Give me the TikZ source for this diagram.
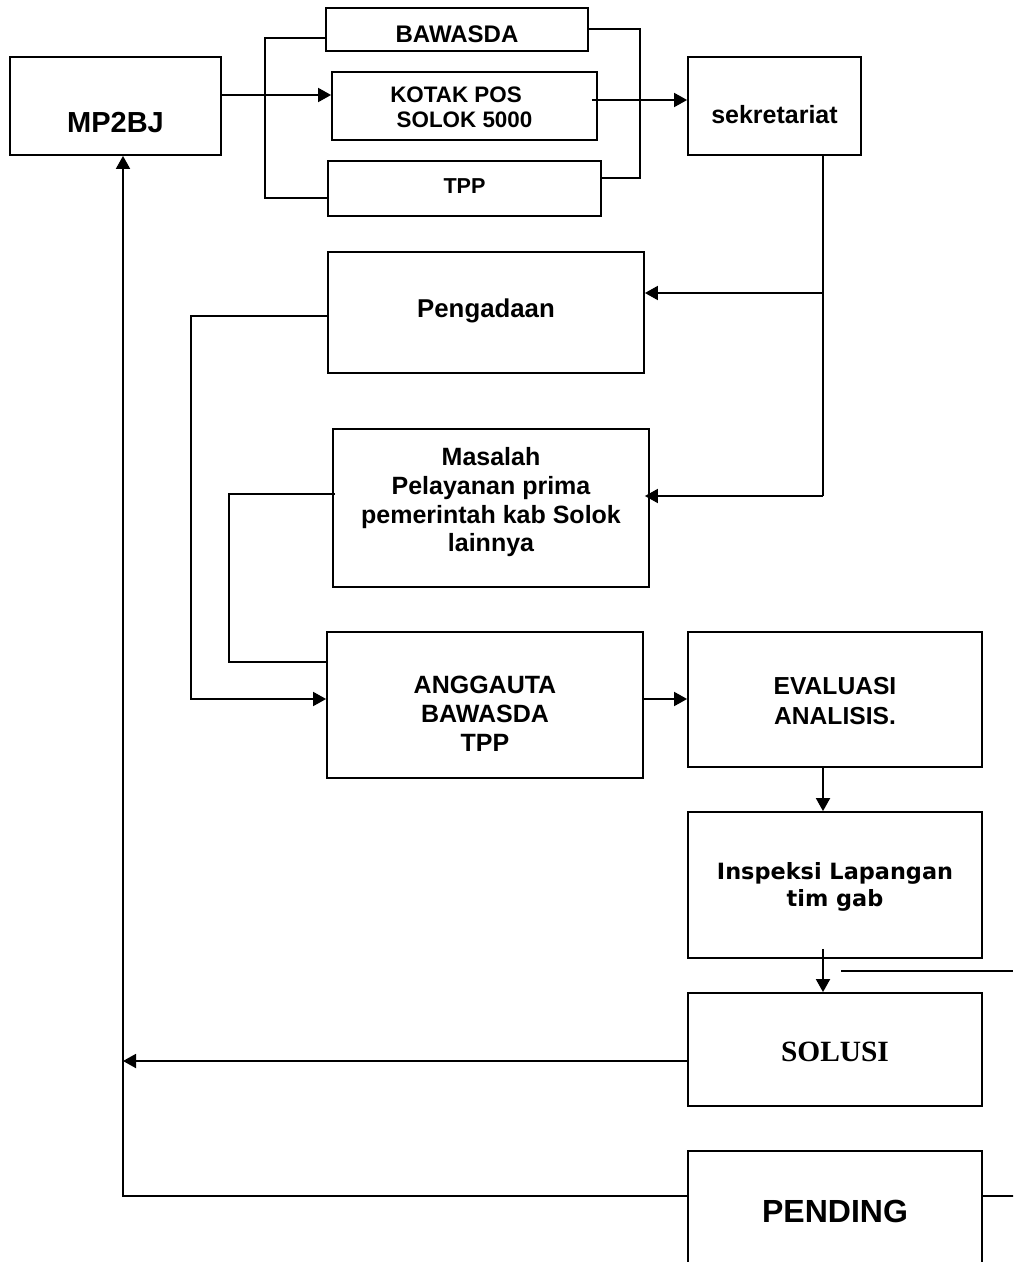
\documentclass[tikz,border=0pt]{standalone}
\usepackage{fontspec}
\setmainfont{Liberation Sans}
\newfontfamily\serifbold{Liberation Serif}
\newfontfamily\tahomalike{DejaVu Sans}
\usetikzlibrary{arrows.meta,calc}
\newcommand\tx[3]{#2\raisebox{#1}[\height][\depth]{\begin{tabular}{@{}c@{}}#3\end{tabular}}}
\newcommand\fs[2]{\fontsize{#1}{#2}\selectfont\bfseries}
\begin{document}
\begin{tikzpicture}[x=0.5pt,y=-0.5pt,
  box/.style={draw, line width=0.9pt, inner sep=0pt, align=center},
  conn/.style={line width=0.9pt},
  arr/.style={conn, -{Triangle[length=6.5pt,width=7pt]}}]
\useasboundingbox (0,0) rectangle (1013,1262);
\clip (0,0) rectangle (1013,1262);

% boxes
\node[box, minimum width=105.5pt, minimum height=49pt] (mp) at (115.5,106) {\tx{-10pt}{\fs{14.5pt}{17pt}}{MP2BJ}};
\node[box, minimum width=131pt, minimum height=21.5pt] (baw) at (457,29.5) {\tx{-3.75pt}{\fs{12pt}{14pt}}{BAWASDA}};
\node[box, minimum width=132.5pt, minimum height=34pt] (kotak) at (464.5,106) {\tx{-2pt}{\fs{11.2pt}{12.5pt}}{KOTAK POS\hspace*{8.5pt}\\SOLOK 5000}};
\node[box, minimum width=136.5pt, minimum height=27.5pt] (tpp) at (464.5,188.5) {\tx{0pt}{\fs{10.8pt}{12.5pt}}{TPP}};
\node[box, minimum width=86.5pt, minimum height=49pt] (sek) at (774.5,106) {\tx{-6pt}{\fs{12.5pt}{14pt}}{sekretariat}};
\node[box, minimum width=158pt, minimum height=60.5pt] (peng) at (486,312.5) {\tx{0.5pt}{\fs{12.9pt}{14.5pt}}{Pengadaan}};
\node[box, minimum width=158pt, minimum height=79pt] (mas) at (491,508) {\tx{2.5pt}{\fs{12.5pt}{14.3pt}}{Masalah\\Pelayanan prima\\pemerintah kab Solok\\lainnya}};
\node[box, minimum width=158pt, minimum height=73pt] (ang) at (485,705) {\tx{-5.75pt}{\fs{12.5pt}{14.5pt}}{ANGGAUTA\\BAWASDA\\TPP}};
\node[box, minimum width=147pt, minimum height=67.5pt] (eva) at (835,699.5) {\tx{-2pt}{\fs{12.3pt}{15pt}}{EVALUASI\\ANALISIS.}};
\node[box, minimum width=147pt, minimum height=73pt] (insp) at (835,885) {\tx{-1.5pt}{\tahomalike\fs{11.2pt}{13.5pt}}{Inspeksi Lapangan\\tim gab}};
\node[box, minimum width=147pt, minimum height=56.5pt] (sol) at (835,1049.5) {\tx{-3pt}{\serifbold\fs{14.7pt}{16pt}}{SOLUSI}};
\node[box, minimum width=147pt, minimum height=61pt] (pend) at (835,1212) {\tx{-1.5pt}{\fs{16pt}{18pt}}{PENDING}};

% helper coordinates
\coordinate (xa) at (823,0);
\coordinate (lx) at (123,0);
\coordinate (j1) at (823,293);
\coordinate (j2) at (823,496);
\coordinate (s1) at (841,971);
\coordinate (s2) at (1013,971);

% connectors
\draw[arr] (mp.east |- 0,95) -- (kotak.west |- 0,95);
\draw[conn] (baw.west |- 0,38) -- ++(-60,0) |- (tpp.west |- 0,198);
\draw[conn] (baw.east |- 0,29) -- ++(51,0) |- (tpp.east |- 0,178);
\draw[arr] ($(kotak.east |- 0,100)+(-6,0)$) -- (sek.west |- 0,100);
\draw[conn] (sek.south -| xa) -- (j2);
\draw[arr] (j1) -- (peng.east |- j1);
\draw[arr] (j2) -- ($(mas.east |- j2)+(-5,0)$);
\draw[arr] (peng.west |- 0,316) -- ++(-136,0) |- (ang.west |- 0,699);
\draw[conn] ($(mas.west |- 0,494)+(3,0)$) -- ++(-106,0) |- (ang.west |- 0,662);
\draw[arr] (ang.east |- 0,699) -- (eva.west |- 0,699);
\draw[arr] (eva.south -| xa) -- (insp.north -| xa);
\draw[arr] ($(insp.south -| xa)+(0,-10)$) -- (sol.north -| xa);
\draw[conn] (s1) -- (s2);
\draw[arr] (sol.west |- 0,1061) -- (lx |- 0,1061);
\draw[arr] (pend.west |- 0,1196) -| (mp.south -| lx);
\draw[conn] (pend.east |- 0,1196) -- ++(40,0);
\end{tikzpicture}
\end{document}
